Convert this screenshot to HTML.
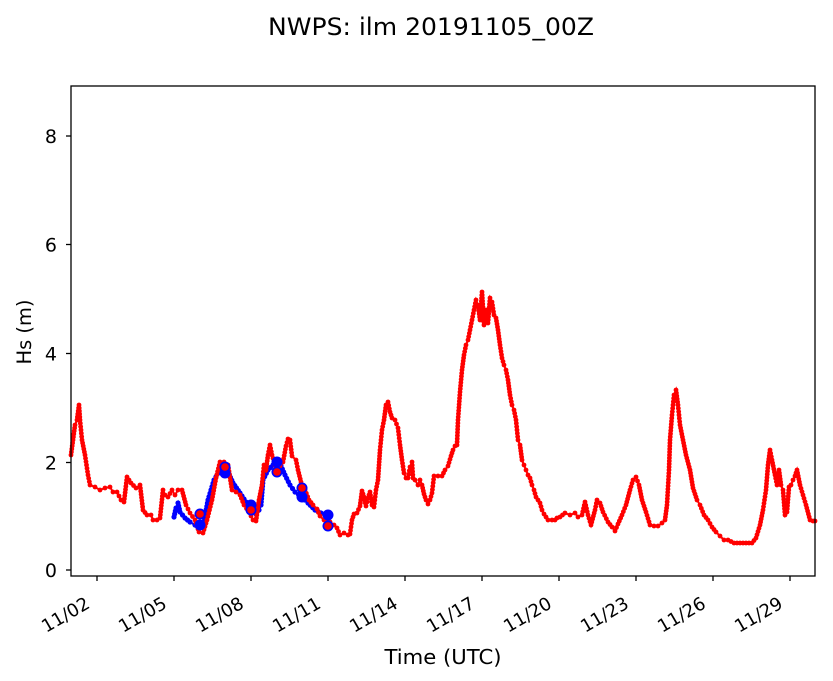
<!DOCTYPE html>
<html><head><meta charset="utf-8"><style>html,body{margin:0;padding:0;background:#fff}svg{display:block}text{font-family:"DejaVu Sans","Liberation Sans",sans-serif;fill:#000}</style></head>
<body>
<svg id="s" width="833" height="681" viewBox="0 0 833 681" xmlns="http://www.w3.org/2000/svg">
<rect width="833" height="681" fill="#fff"/>
<text x="431" y="35" font-size="24" text-anchor="middle" textLength="326" lengthAdjust="spacingAndGlyphs">NWPS: ilm 20191105_00Z</text>
<g id="plot"></g>
<rect x="71" y="86" width="744" height="490" fill="none" stroke="#000" stroke-width="1.3"/>
<g stroke="#000" stroke-width="1.3">
<line x1="66" y1="570" x2="71" y2="570"/><line x1="66" y1="462.5" x2="71" y2="462.5"/><line x1="66" y1="353.5" x2="71" y2="353.5"/><line x1="66" y1="244.5" x2="71" y2="244.5"/><line x1="66" y1="136" x2="71" y2="136"/>
<line x1="97" y1="576" x2="97" y2="581"/><line x1="174" y1="576" x2="174" y2="581"/><line x1="251" y1="576" x2="251" y2="581"/><line x1="328" y1="576" x2="328" y2="581"/><line x1="405" y1="576" x2="405" y2="581"/><line x1="482" y1="576" x2="482" y2="581"/><line x1="559" y1="576" x2="559" y2="581"/><line x1="636" y1="576" x2="636" y2="581"/><line x1="713" y1="576" x2="713" y2="581"/><line x1="790" y1="576" x2="790" y2="581"/>
</g>
<g font-size="19" text-anchor="end">
<text x="57" y="577">0</text><text x="57" y="469.5">2</text><text x="57" y="360.5">4</text><text x="57" y="251.5">6</text><text x="57" y="143">8</text>
</g>
<g font-size="18" text-anchor="end" id="xl"></g>
<text x="443" y="664" font-size="20" text-anchor="middle" textLength="117" lengthAdjust="spacingAndGlyphs">Time (UTC)</text>
<text transform="translate(31,332) rotate(-90)" font-size="19.5" text-anchor="middle" textLength="65" lengthAdjust="spacingAndGlyphs">Hs (m)</text>
</svg>
<script>
var NS="http://www.w3.org/2000/svg";
function el(p,t,a){var e=document.createElementNS(NS,t);for(var k in a)e.setAttribute(k,a[k]);p.appendChild(e);return e;}
var xl=document.getElementById('xl');
var labs=["11/02","11/05","11/08","11/11","11/14","11/17","11/20","11/23","11/26","11/29"];
labs.forEach(function(l,i){var x=97+77*i;var t=el(xl,'text',{transform:'translate('+(x-6)+',607) rotate(-30)'});t.textContent=l;});
var red=[[71,455],[73,440],[75,425],[77,420],[79,405],[80,420],[82,440],[85,455],[88,475],[90,485],[95,487],[100,490],[105,488],[110,487],[113,492],[117,492],[121,500],[124,502],[127,477],[131,483],[136,488],[140,485],[143,510],[147,515],[151,515],[153,520],[157,520],[160,518],[163,490],[165,495],[168,497],[172,490],[175,495],[178,490],[182,490],[186,505],[190,513],[195,520],[199,532],[203,533],[207,520],[212,500],[216,478],[220,462],[224,462],[228,465],[232,490],[236,492],[240,495],[244,505],[249,512],[253,520],[256,521],[259,500],[262,485],[264,465],[266,470],[268,455],[270,445],[272,455],[276,468],[280,466],[283,462],[286,446],[288,439],[290,440],[292,456],[296,460],[298,470],[301,482],[305,490],[309,500],[313,505],[317,509],[320,516],[324,520],[327,520],[330,522],[334,525],[337,528],[340,535],[344,533],[348,535],[350,534],[352,520],[354,514],[357,513],[360,506],[362,491],[364,497],[366,506],[368,498],[370,492],[372,505],[374,507],[376,490],[378,480],[380,450],[382,430],[384,420],[386,405],[388,402],[390,412],[392,418],[395,420],[398,428],[400,445],[402,460],[404,473],[406,478],[408,478],[410,467],[412,462],[413,478],[415,480],[418,485],[420,480],[422,485],[424,494],[426,500],[428,504],[430,500],[432,493],[434,476],[438,476],[442,476],[445,470],[448,466],[451,456],[453,450],[455,446],[457,445],[458,420],[460,392],[462,370],[464,355],[466,345],[468,340],[470,330],[472,320],[474,310],[476,300],[478,305],[480,320],[482,292],[484,325],[486,310],[488,323],[490,298],[492,302],[494,315],[496,318],[498,330],[500,345],[502,358],[504,365],[506,370],[508,380],[510,395],[512,405],[514,410],[516,420],[518,440],[520,445],[522,460],[524,465],[526,470],[528,475],[530,478],[532,485],[534,490],[536,497],[538,500],[540,503],[542,510],[544,514],[548,520],[552,520],[555,520],[557,518],[560,517],[565,513],[570,515],[575,513],[578,517],[582,515],[585,502],[588,515],[591,525],[595,510],[597,500],[600,503],[603,512],[608,522],[612,527],[615,531],[618,524],[622,515],[626,505],[630,490],[633,480],[636,477],[639,485],[642,500],[646,512],[650,525],[654,526],[658,526],[662,523],[665,520],[667,505],[669,470],[670,440],[672,415],[674,395],[676,390],[678,405],[680,425],[683,440],[686,455],[690,470],[693,488],[697,500],[700,505],[704,515],[708,520],[712,527],[716,532],[720,536],[724,540],[728,540],[734,543],[740,543],[746,543],[752,543],[756,538],[760,525],[763,510],[766,490],[768,465],[770,450],[772,460],[775,475],[777,485],[779,470],[781,485],[783,490],[785,515],[787,512],[789,487],[791,485],[793,480],[795,476],[797,470],[800,485],[803,495],[806,505],[810,520],[813,521],[815,521]];
var blue=[[174,517],[176,508],[178,503],[180,512],[185,518],[190,522],[195,525],[200,527],[204,522],[208,500],[214,480],[220,470],[225,468],[228,472],[233,483],[240,493],[246,502],[251,507],[256,514],[259,510],[261,505],[263,480],[268,470],[273,465],[277,462],[281,466],[285,475],[290,485],[295,492],[302,497],[308,503],[315,510],[321,513],[328,515]];
var g=document.getElementById('plot');
function series(pts,col,r){
 el(g,'polyline',{points:pts.map(function(p){return p.join(',')}).join(' '),fill:'none',stroke:col,'stroke-width':2});
 for(var i=0;i<pts.length;i++){el(g,'circle',{cx:pts[i][0],cy:pts[i][1],r:r,fill:col});
  if(i<pts.length-1){var a=pts[i],b=pts[i+1];var d=Math.hypot(b[0]-a[0],b[1]-a[1]);var n=Math.floor(d/3);for(var k=1;k<n;k++){el(g,'circle',{cx:a[0]+(b[0]-a[0])*k/n,cy:a[1]+(b[1]-a[1])*k/n,r:r,fill:col});}}}
}
series(blue,'#0000ff',2.6);
series(red,'#ff0000',2.4);
[[200,525],[225,473],[251,505],[277,462],[302,497],[328,515]].forEach(function(p){el(g,'circle',{cx:p[0],cy:p[1],r:5.5,fill:'#0000ff'});});
[[200,514],[225,467],[251,510],[277,472],[302,488],[328,526]].forEach(function(p){el(g,'circle',{cx:p[0],cy:p[1],r:5.5,fill:'#0000ff'});el(g,'circle',{cx:p[0],cy:p[1],r:3.8,fill:'#ff0000'});});
</script>
</body></html>
